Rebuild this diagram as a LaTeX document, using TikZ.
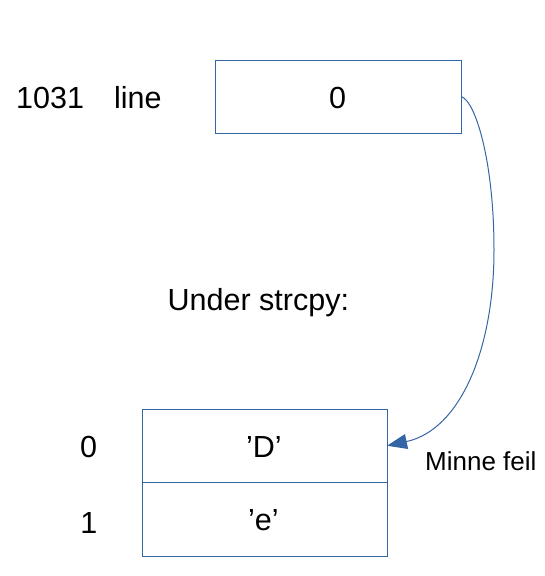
\documentclass[tikz,border=0pt]{standalone}
\usepackage{fontspec}
\setmainfont{Liberation Sans}
\usetikzlibrary{arrows.meta}
\definecolor{lineblue}{RGB}{52,101,164}
\begin{document}
\begin{tikzpicture}[x=1pt,y=-1pt,
  cell/.style={draw=lineblue, line width=1pt, minimum width=246pt, minimum height=73pt, inner sep=0pt, outer sep=0pt},
  lbl/.style={inner sep=0pt, font=\fontsize{30.5}{35}\selectfont},
  small/.style={inner sep=0pt, font=\fontsize{26}{30}\selectfont},
  conn/.style={draw=lineblue, line width=1pt, -{Triangle[length=20pt,width=15pt]}}]
\useasboundingbox (0,0) rectangle (545,576);
\node[cell] (top) at (338,96.5) {};
\node[cell, minimum width=245pt, minimum height=73.5pt] (c0) at (264.5,445.75) {};
\node[cell, minimum width=245pt, minimum height=73.5pt] (c1) at (264.5,519.25) {};
\node[lbl, anchor=base west] (addr) at (16,108.3) {1031};
\node[lbl, anchor=base west] (name) at (114,108.3) {line};
\node[lbl, anchor=base] (val) at (337.5,108.3) {0};
\node[lbl, anchor=base west] (under) at (167.5,310) {Under strcpy:};
\node[lbl, anchor=base] (i0) at (88.7,457.3) {0};
\node[lbl, anchor=base] (i1) at (88.8,533.5) {1};
\node[lbl, anchor=base] (vD) at (263.8,457.3) {’D’};
\node[lbl, anchor=base] (ve) at (263.3,530.5) {’e’};
\node[small, anchor=base west] (err) at (425,470.7) {Minne feil};
\coordinate (mid) at (494,250);
\draw[conn] (top.east) .. controls (475,100) and (494,160) .. (mid)
  .. controls (494,350) and (460,430) .. (c0.east);
\end{tikzpicture}
\end{document}
